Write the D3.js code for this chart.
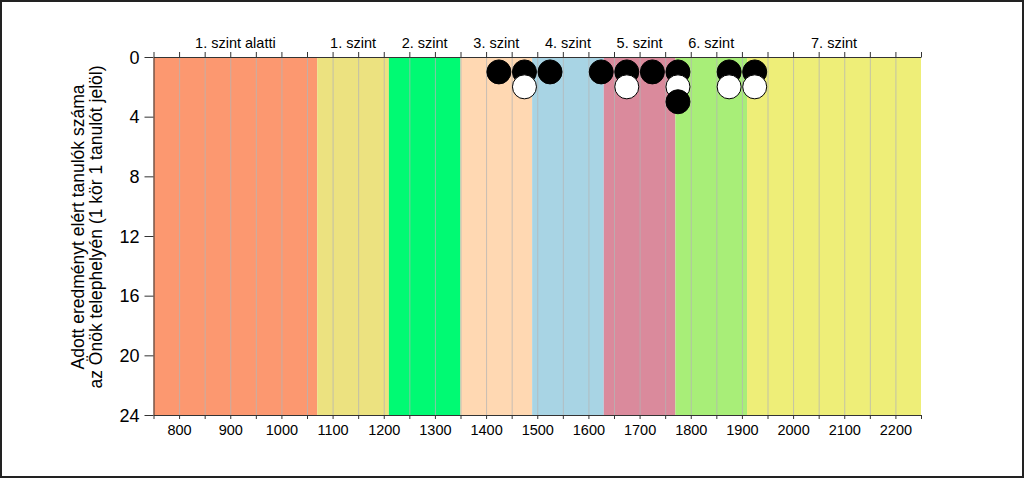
<!DOCTYPE html>
<html><head><meta charset="utf-8">
<script src="https://cdn.jsdelivr.net/npm/d3@7"></script>
<style>body{margin:0;background:#fff}svg{display:block}text{font-family:"Liberation Sans",Arial,sans-serif}</style>
</head><body>
<svg id="c" width="1024" height="478"></svg>
<script>
// Score bands (levels)
const bandNames = ["1. szint alatti","1. szint","2. szint","3. szint","4. szint","5. szint","6. szint","7. szint"];
const bandStarts = [750,1070,1210,1350,1490,1630,1770,1910];
const bandEnds = [1070,1210,1350,1490,1630,1770,1910,2250];
const bandColors = ["#fc9870","#ece280","#00fa73","#ffd8b2","#a8d4e4","#da8a9c","#a8ee78","#eeee78"];
// Students: bin centre score, stack position, fill type
const pointScores = [1425,1475,1475,1525,1625,1675,1675,1725,1775,1775,1775,1875,1875,1925,1925];
const pointStack  = [1,1,2,1,1,1,2,1,1,2,3,1,2,1,2];
const pointFilled = [1,1,0,1,1,1,0,1,1,0,1,1,0,1,0];
const xTicks = [800,900,1000,1100,1200,1300,1400,1500,1600,1700,1800,1900,2000,2100,2200];
const yTicks = [0,4,8,12,16,20,24];

const svg = d3.select("#c");
const x = d3.scaleLinear().domain([750,2250]).range([153.5,921]);
const y = d3.scaleLinear().domain([0,24]).range([57,415]);

svg.append("rect").attr("x",1).attr("y",1).attr("width",1022).attr("height",476)
  .attr("fill","#fff").attr("stroke","#222").attr("stroke-width",2);

// bands
svg.selectAll("rect.band").data(bandNames).enter().append("rect").attr("class","band")
  .attr("x",(d,i)=>x(bandStarts[i])).attr("y",y(0))
  .attr("width",(d,i)=>x(bandEnds[i])-x(bandStarts[i])).attr("height",y(24)-y(0))
  .attr("fill",(d,i)=>bandColors[i]);

// grid lines
const grid = d3.range(800,2250,50);
svg.selectAll("line.g").data(grid).enter().append("line").attr("class","g")
  .attr("x1",d=>x(d)+0.5).attr("x2",d=>x(d)+0.5).attr("y1",y(0)).attr("y2",y(24))
  .attr("stroke","#b4b4b4").attr("stroke-opacity",0.75).attr("stroke-width",1);

// band labels
svg.selectAll("text.bl").data(bandNames).enter().append("text").attr("class","bl")
  .attr("x",(d,i)=>x((bandStarts[i]+bandEnds[i])/2)).attr("y",48)
  .attr("text-anchor","middle").attr("font-size",14.5).attr("fill","#000").text(d=>d);

// axes
const gTop = svg.append("g").attr("transform",`translate(0,${y(0)})`)
  .call(d3.axisTop(x).tickValues(d3.range(750,2251,50)).tickFormat("").tickSize(5).tickSizeOuter(0));
const gBot = svg.append("g").attr("transform",`translate(0,${y(24)})`)
  .call(d3.axisBottom(x).tickValues(d3.range(750,2251,50)).tickFormat(d=>xTicks.includes(d)?d:"").tickSize(4).tickSizeOuter(0));
gBot.selectAll("text").attr("font-size",14.5).attr("dy","0.9em").attr("fill","#000").style("font-family","'Liberation Sans',Arial,sans-serif");
const gLeft = svg.append("g").attr("transform",`translate(${x(750)},0)`)
  .call(d3.axisLeft(y).tickValues(yTicks).tickSize(9).tickSizeOuter(0));
gLeft.selectAll("text").attr("font-size",18).attr("dy","0.35em").attr("x",-14).attr("fill","#000").style("font-family","'Liberation Sans',Arial,sans-serif");
[gTop,gBot,gLeft].forEach(g=>{g.select(".domain").attr("stroke","#333");g.selectAll(".tick line").attr("stroke","#333");});

// circles
const idx = d3.range(pointScores.length).sort((a,b)=>pointStack[a]-pointStack[b]);
svg.selectAll("circle.p").data(idx).enter().append("circle").attr("class","p")
  .attr("cx",i=>x(pointScores[i])).attr("cy",i=>y(pointStack[i])).attr("r",12)
  .attr("fill",i=>pointFilled[i]?"#000":"#fff").attr("stroke","#000").attr("stroke-width",1);

// y title
const t = svg.append("text").attr("transform",`translate(0,227) rotate(-90)`).attr("text-anchor","middle").attr("font-size",17.5).attr("fill","#000");
t.append("tspan").attr("x",0).attr("y",84).text("Adott eredményt elért tanulók száma");
t.append("tspan").attr("x",0).attr("y",102).text("az Önök telephelyén (1 kör 1 tanulót jelöl)");
</script>
</body></html>
